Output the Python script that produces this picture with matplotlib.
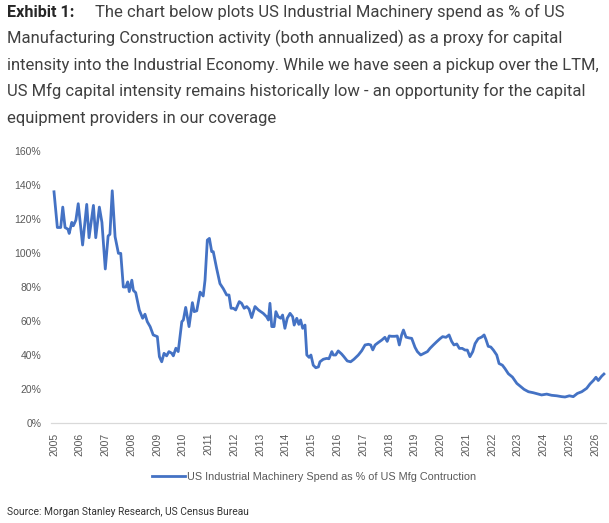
import matplotlib
matplotlib.use("Agg")
import matplotlib.pyplot as plt
from matplotlib.ticker import FuncFormatter

# ============================================================================
# DATA
# ============================================================================
years = [
    2005.00, 2005.13, 2005.26, 2005.34, 2005.43, 2005.54, 2005.59, 2005.69, 2005.75, 2005.85,
    2005.94, 2006.11, 2006.27, 2006.36, 2006.53, 2006.62, 2006.76, 2006.86, 2006.99, 2007.10,
    2007.17, 2007.26, 2007.37, 2007.50, 2007.59, 2007.69, 2007.79, 2007.86, 2007.92, 2008.02,
    2008.08, 2008.17, 2008.31, 2008.44, 2008.53, 2008.62, 2008.73, 2008.85, 2009.01, 2009.09,
    2009.18, 2009.27, 2009.37, 2009.46, 2009.57, 2009.63, 2009.73, 2009.82, 2009.96, 2010.02,
    2010.11, 2010.24, 2010.37, 2010.44, 2010.54, 2010.67, 2010.79, 2010.86, 2010.95, 2011.03,
    2011.12, 2011.18, 2011.31, 2011.44, 2011.57, 2011.70, 2011.79, 2011.87, 2011.96, 2012.05,
    2012.19, 2012.28, 2012.38, 2012.48, 2012.57, 2012.67, 2012.80, 2012.93, 2013.12, 2013.25,
    2013.32, 2013.38, 2013.45, 2013.54, 2013.61, 2013.70, 2013.80, 2013.87, 2013.96, 2014.05,
    2014.16, 2014.26, 2014.32, 2014.42, 2014.50, 2014.57, 2014.65, 2014.74, 2014.81, 2014.90,
    2014.97, 2015.06, 2015.16, 2015.26, 2015.32, 2015.45, 2015.58, 2015.67, 2015.78, 2015.84,
    2015.93, 2016.03, 2016.16, 2016.25, 2016.38, 2016.51, 2016.64, 2016.81, 2016.94, 2017.07,
    2017.20, 2017.29, 2017.37, 2017.46, 2017.58, 2017.72, 2017.84, 2017.93, 2018.01, 2018.10,
    2018.23, 2018.32, 2018.40, 2018.49, 2018.56, 2018.66, 2018.79, 2018.88, 2019.01, 2019.10,
    2019.23, 2019.36, 2019.49, 2019.59, 2019.72, 2019.85, 2019.98, 2020.08, 2020.21, 2020.33,
    2020.43, 2020.52, 2020.63, 2020.73, 2020.84, 2020.95, 2021.04, 2021.14, 2021.25, 2021.34,
    2021.46, 2021.60, 2021.69, 2021.76, 2021.85, 2021.95, 2022.05, 2022.18, 2022.27, 2022.40,
    2022.50, 2022.63, 2022.79, 2022.96, 2023.11, 2023.24, 2023.41, 2023.60, 2023.79, 2023.92,
    2024.12, 2024.31, 2024.51, 2024.70, 2024.83, 2025.00, 2025.15, 2025.31, 2025.48, 2025.67,
    2025.80, 2025.93, 2026.03, 2026.12, 2026.25, 2026.34,
]

spend_pct = [
    136.0, 115.0, 115.0, 127.0, 115.0, 114.0, 111.5, 118.0, 116.0, 119.4,
    129.0, 104.7, 128.6, 109.0, 128.0, 109.0, 127.0, 118.0, 90.6, 110.0,
    111.0, 136.6, 109.6, 99.8, 99.8, 80.0, 80.0, 83.0, 77.3, 84.0,
    78.0, 76.7, 66.5, 61.6, 64.0, 59.6, 56.7, 51.8, 50.8, 39.0,
    36.0, 41.0, 39.5, 42.0, 41.0, 39.5, 44.0, 42.0, 59.6, 60.6,
    68.0, 56.7, 70.8, 65.5, 66.0, 77.0, 74.7, 84.0, 107.6, 108.6,
    100.8, 100.8, 91.0, 82.0, 79.0, 75.3, 75.3, 67.5, 67.5, 66.5,
    71.4, 70.4, 67.5, 68.5, 67.0, 62.0, 68.5, 66.5, 64.5, 62.5,
    60.6, 70.4, 56.7, 56.7, 65.5, 62.5, 61.6, 63.5, 55.7, 61.6,
    64.5, 62.5, 57.6, 61.6, 58.0, 60.6, 55.7, 57.6, 40.0, 38.6,
    40.0, 34.0, 32.5, 33.0, 36.0, 37.5, 38.0, 37.8, 42.0, 40.0,
    40.0, 42.4, 40.6, 39.0, 36.5, 36.0, 37.5, 40.0, 42.5, 45.9,
    46.3, 45.9, 43.0, 45.9, 47.3, 48.8, 50.4, 48.0, 51.2, 51.0,
    51.0, 51.2, 45.9, 51.8, 54.7, 50.5, 50.0, 49.8, 44.5, 42.0,
    40.0, 41.0, 42.0, 43.9, 45.9, 47.8, 49.6, 50.8, 50.4, 51.8,
    48.0, 45.9, 46.5, 43.9, 43.9, 42.9, 42.9, 39.0, 42.0, 46.7,
    49.6, 50.6, 51.8, 49.2, 45.1, 44.7, 42.9, 40.0, 35.0, 34.0,
    32.0, 29.0, 27.0, 23.3, 21.4, 19.8, 18.4, 17.8, 17.0, 16.5,
    17.0, 16.3, 16.0, 15.5, 15.3, 16.0, 15.5, 17.4, 18.4, 20.4,
    23.0, 25.0, 26.9, 25.0, 27.5, 28.8,
]

year_ticks = list(range(2005, 2027))
pct_ticks = [0, 20, 40, 60, 80, 100, 120, 140, 160]

SERIES_LABEL = "US Industrial Machinery Spend as % of US Mfg Contruction"
TITLE_LINES = [
    "The chart below plots US Industrial Machinery spend as % of US",
    "Manufacturing Construction activity (both annualized) as a proxy for capital",
    "intensity into the Industrial Economy. While we have seen a pickup over the LTM,",
    "US Mfg capital intensity remains historically low - an opportunity for the capital",
    "equipment providers in our coverage",
]
SOURCE = "Source: Morgan Stanley Research, US Census Bureau"

# ============================================================================
# PLOT
# ============================================================================
W, H = 609, 523
fig = plt.figure(figsize=(W / 100, H / 100), dpi=100)
fig.patch.set_facecolor("white")


def fy(py):
    """pixel row (from top) -> figure fraction"""
    return 1 - py / H


# Title block
title_font = "Roboto"
baselines = [17.3, 43.5, 70.0, 96.3, 122.7]
fig.text(7 / W, fy(baselines[0]), "Exhibit 1:", fontsize=11.6, family=title_font,
         fontweight="bold", color="#262626", va="baseline", ha="left")
for i, line in enumerate(TITLE_LINES):
    x0 = 95 if i == 0 else 7
    fig.text(x0 / W, fy(baselines[i]), line, fontsize=12.0, family=title_font,
             color="#404040", va="baseline", ha="left")

# Axes area
ax_left, ax_right = 51, 606
ax_top, ax_bottom = 151, 423
ax = fig.add_axes([ax_left / W, fy(ax_bottom), (ax_right - ax_left) / W, (ax_bottom - ax_top) / H])

line, = ax.plot(years, spend_pct, color="#4472C4", linewidth=2.0, solid_joinstyle="round",
                label=SERIES_LABEL)

px_per_year = 25.77
x_at_2005 = 54.0
ax.set_xlim(2005 - (x_at_2005 - ax_left) / px_per_year, 2005 + (ax_right - x_at_2005) / px_per_year)
ax.set_ylim(0, 160)

ax.set_xticks(year_ticks)
ax.set_xticklabels([str(y) for y in year_ticks], rotation=90, fontsize=7.5,
                   family="Liberation Sans", color="#595959")
ax.set_yticks(pct_ticks)
ax.yaxis.set_major_formatter(FuncFormatter(lambda v, _: f"{v:.0f}%"))
for lbl in ax.get_yticklabels():
    lbl.set_fontsize(7.5)
    lbl.set_family("Liberation Sans")
    lbl.set_color("#595959")

ax.tick_params(axis="both", length=0)
ax.tick_params(axis="x", pad=7)
ax.tick_params(axis="y", pad=7)
for side in ["top", "right", "left"]:
    ax.spines[side].set_visible(False)
ax.spines["bottom"].set_color("#D9D9D9")
ax.spines["bottom"].set_linewidth(0.9)
ax.set_facecolor("white")

# Legend below the chart
leg = fig.legend(handles=[line], loc="center", bbox_to_anchor=(314 / W, fy(477)),
                 frameon=False, handlelength=3.0, handletextpad=0.2,
                 prop={"family": "Liberation Sans", "size": 7.85})
for t in leg.get_texts():
    t.set_color("#595959")

fig.text(7 / W, fy(512), SOURCE, fontsize=7.4, family="Roboto", color="#333333",
         va="center", ha="left")

fig.savefig("out.png", dpi=100, facecolor="white")
